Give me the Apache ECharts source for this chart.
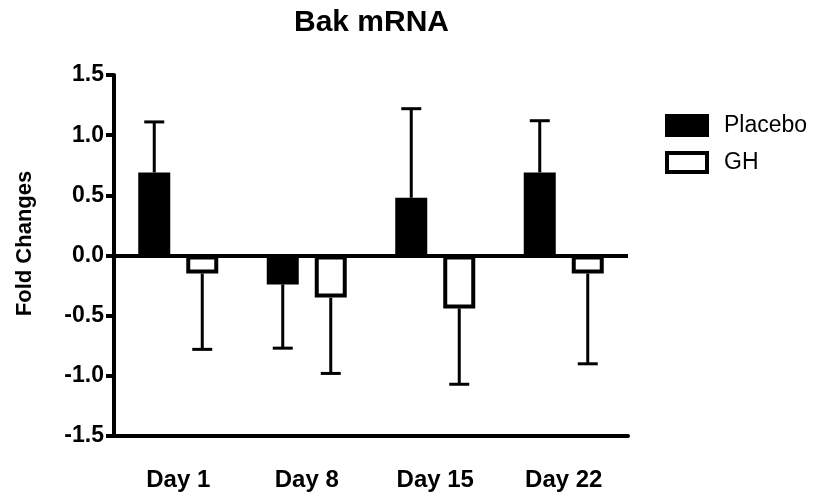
<!DOCTYPE html>
<html>
<head>
<meta charset="utf-8">
<script src="https://cdn.jsdelivr.net/npm/echarts@6/dist/echarts.min.js"></script>
<style>
  html, body { margin: 0; padding: 0; background: #fff; }
  #chart { width: 822px; height: 500px; }
</style>
</head>
<body>
<div id="chart"></div>
<script>
const categories = ['Day 1', 'Day 8', 'Day 15', 'Day 22']
const placeboMean = [0.69, -0.24, 0.48, 0.69]
const placeboErr = [0.42, 0.53, 0.74, 0.43]
const ghMean = [-0.15, -0.35, -0.44, -0.15]
const ghErr = [0.63, 0.63, 0.63, 0.75]
const yTicks = [-1.5, -1.0, -0.5, 0.0, 0.5, 1.0, 1.5]

const font = "'Liberation Sans', Arial, sans-serif"

// error bar drawn only away from zero, like the original
function errorSeries(name, means, errs, offset) {
  return {
    type: 'custom',
    name: name + ' err',
    silent: true,
    z: 5,
    encode: { x: 0, y: [1, 2] },
    data: means.map((m, i) => [i, m, m + Math.sign(m) * errs[i]]),
    renderItem(params, api) {
      const base = api.coord([api.value(0), api.value(1)])
      const end = api.coord([api.value(0), api.value(2)])
      const x = base[0] + offset
      const style = { stroke: '#000', lineWidth: 3 }
      return {
        type: 'group',
        children: [
          { type: 'line', shape: { x1: x, y1: base[1], x2: x, y2: end[1] }, style },
          { type: 'line', shape: { x1: x - 10, y1: end[1], x2: x + 10, y2: end[1] }, style }
        ]
      }
    }
  }
}

const chart = echarts.init(document.getElementById('chart'))

chart.setOption({
  animation: false,
  textStyle: { fontFamily: font },
  title: {
    text: 'Bak mRNA',
    left: 289,
    top: 3,
    textStyle: { fontFamily: font, fontSize: 30, fontWeight: 'bold', color: '#000' }
  },
  legend: {
    data: ['Placebo', 'GH'],
    orient: 'vertical',
    left: 660,
    top: 109,
    icon: 'rect',
    itemWidth: 40,
    itemHeight: 19,
    itemGap: 14,
    itemStyle: { borderColor: '#000', borderWidth: 4 },
    textStyle: { fontFamily: font, fontSize: 23, color: '#000', padding: [0, 0, 0, 12] }
  },
  grid: { left: 114, right: 194, top: 75, bottom: 64 },
  xAxis: {
    type: 'category',
    data: categories,
    axisLine: { onZero: false, lineStyle: { color: '#000', width: 4 } },
    axisTick: { alignWithLabel: true, length: 10, lineStyle: { color: '#000', width: 4 } },
    axisLabel: { margin: 32, color: '#000', fontFamily: font, fontSize: 24, fontWeight: 'bold' },
    splitLine: { show: false }
  },
  yAxis: {
    type: 'value',
    min: yTicks[0],
    max: yTicks[yTicks.length - 1],
    interval: 0.5,
    name: 'Fold Changes',
    nameLocation: 'middle',
    nameGap: 78,
    nameTextStyle: { color: '#000', fontFamily: font, fontSize: 22, fontWeight: 'bold', padding: [0, 0, 0, 24] },
    axisLine: { show: true, lineStyle: { color: '#000', width: 4 } },
    axisTick: { show: true, length: 8, lineStyle: { color: '#000', width: 4 } },
    axisLabel: {
      margin: 10,
      color: '#000',
      fontFamily: font,
      fontSize: 23,
      fontWeight: 'bold',
      formatter: v => v.toFixed(1)
    },
    splitLine: { show: false }
  },
  series: [
    {
      name: 'Placebo',
      type: 'bar',
      data: placeboMean,
      barWidth: 32,
      barGap: '50%',
      itemStyle: { color: '#000', borderColor: '#000', borderWidth: 4 },
      markLine: {
        silent: true,
        symbol: ['none', 'none'],
        label: { show: false },
        lineStyle: { color: '#000', width: 4, type: 'solid' },
        data: [{ yAxis: 0 }]
      }
    },
    {
      name: 'GH',
      type: 'bar',
      data: ghMean,
      barWidth: 32,
      itemStyle: { color: '#fff', borderColor: '#000', borderWidth: 4 }
    },
    errorSeries('Placebo', placeboMean, placeboErr, -24),
    errorSeries('GH', ghMean, ghErr, 24)
  ]
})
</script>
</body>
</html>
